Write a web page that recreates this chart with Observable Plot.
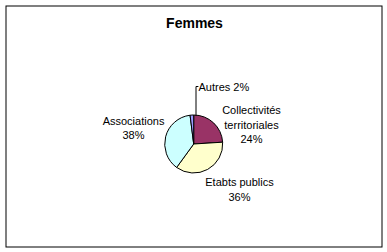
<!DOCTYPE html>
<html>
<head>
<meta charset="utf-8">
<script src="https://cdn.jsdelivr.net/npm/d3@7"></script>
<script src="https://cdn.jsdelivr.net/npm/@observablehq/plot@0.6"></script>
<style>
  html, body { margin: 0; padding: 0; background: #fff; }
  svg { display: block; }
</style>
</head>
<body>
<div id="chart"></div>
<script>
// ---- data ----
const title = "Femmes";
const categories = ["Collectivités\nterritoriales", "Etabts publics", "Associations", "Autres"];
const shares = [24, 36, 38, 2];
const sliceColors = ["#993366", "#FFFFCC", "#CCFFFF", "#9999FF"];

// ---- layout ----
const W = 387, H = 252;
const cx = 193.7, cy = 144, R = 29;
// label anchor positions (layout, not data)
const labelLayout = [
  {x: 251, y: 123.5, anchor: "middle"},
  {x: 239, y: 188.5, anchor: "middle"},
  {x: 133, y: 127, anchor: "middle"},
  {x: 198, y: 86, anchor: "start"}
];

const arcs = d3.pie().sort(null).value(d => d)(shares);
const labelData = categories.map((c, i) => ({
  text: (i === 3 ? c + " " : c + "\n") + shares[i] + "%",
  ...labelLayout[i]
}));

function pieMark(index, scales) {
  const g = d3.create("svg:g");
  const px = scales.x(cx), py = scales.y(cy);
  const rpx = scales.x(cx + R) - px;
  const arcGen = d3.arc().innerRadius(0).outerRadius(rpx);
  g.selectAll("path").data(arcs).join("path")
    .attr("transform", `translate(${px},${py})`)
    .attr("d", arcGen)
    .attr("fill", (d, i) => sliceColors[i])
    .attr("stroke", "#000")
    .attr("stroke-width", 1)
    .attr("stroke-linejoin", "round");
  return g.node();
}

// leader line for the small slice
const leader = [
  {x: 195.5, y: cy - R},
  {x: 195.5, y: 86},
  {x: 197.5, y: 86}
];

const plot = Plot.plot({
  width: W,
  height: H,
  margin: 0,
  x: {domain: [0, W], axis: null},
  y: {domain: [H, 0], axis: null},
  style: {fontFamily: "'Liberation Sans', Arial, sans-serif", background: "#fff"},
  marks: [
    Plot.frame({stroke: "#000", strokeWidth: 1, inset: 5.5}),
    pieMark,
    Plot.line(leader, {x: "x", y: "y", stroke: "#000", strokeWidth: 1}),
    Plot.text([title], {x: () => 194, y: () => 23.5, text: d => d, fontSize: 14, fontWeight: "bold", fill: "#000"}),
    Plot.text(labelData.filter(d => d.anchor === "middle"), {
      x: "x", y: "y", text: "text", textAnchor: "middle",
      fontSize: 11, lineHeight: 1.3, fill: "#000"
    }),
    Plot.text(labelData.filter(d => d.anchor === "start"), {
      x: "x", y: "y", text: "text", textAnchor: "start",
      fontSize: 11, lineHeight: 1.3, fill: "#000"
    })
  ]
});
document.getElementById("chart").appendChild(plot);
</script>
</body>
</html>
